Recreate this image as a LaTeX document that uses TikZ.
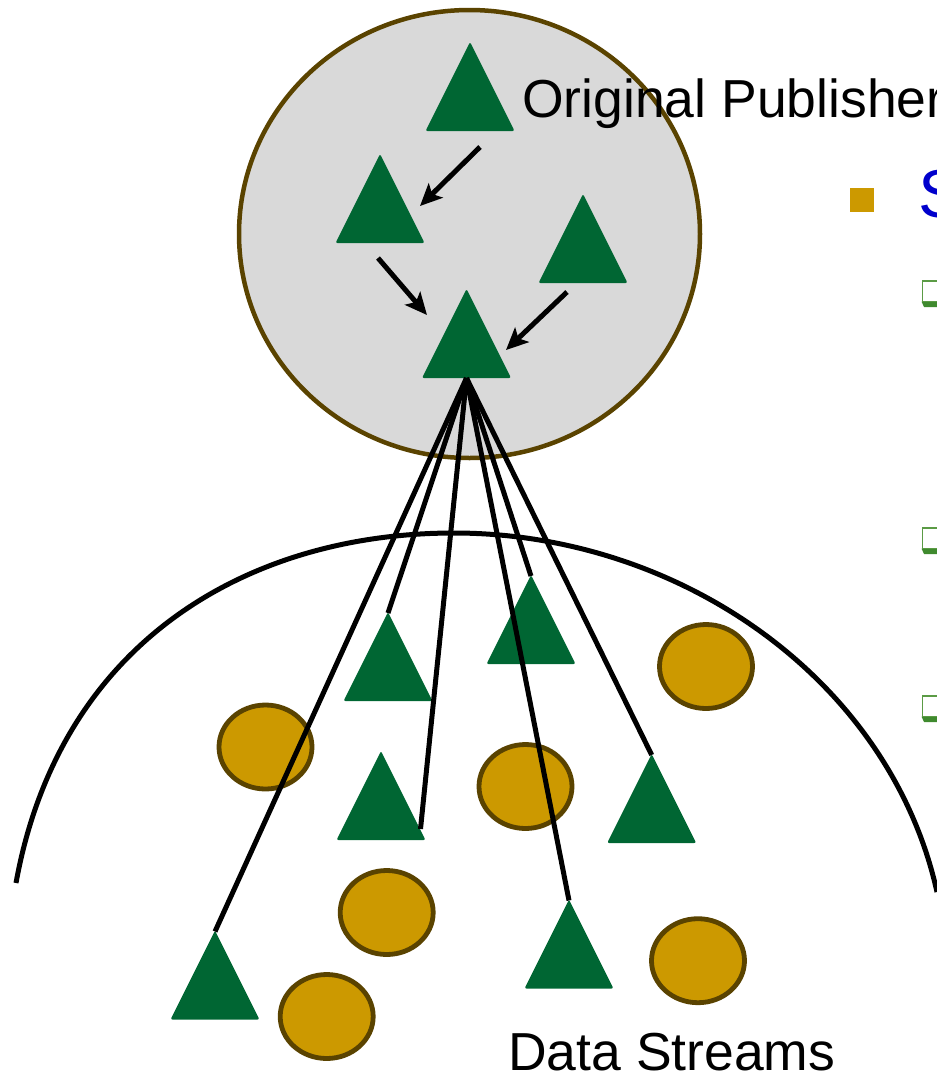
\documentclass[tikz,border=0pt]{standalone}
\usepackage{fontspec}
\setmainfont{Liberation Sans}
\usetikzlibrary{arrows.meta,shapes.geometric}

\definecolor{peergreen}{HTML}{006633}
\definecolor{discgray}{HTML}{D9D9D9}
\definecolor{rimbrown}{HTML}{5A4300}
\definecolor{gold}{HTML}{CC9900}
\definecolor{headblue}{HTML}{0000CC}
\definecolor{boxgreen}{HTML}{5B9B45}
\definecolor{boxshade}{HTML}{3F8A2E}

\tikzset{
  % a peer: green triangle, apex at the origin of the pic
  peer/.pic={
    \coordinate (-apex) at (0,0);
    \coordinate (-base) at (0,88);
    \fill[peergreen, rounded corners=2pt] (0,-1) -- (44.5,88) -- (-44.5,88) -- cycle;
  },
  % a checkbox bullet with its shadow
  checkbox/.pic={
    \fill[boxshade] (0,21.5) -- (30,21.5) -- (30,27) -- (2.5,27) -- cycle;
    \draw[boxgreen, line width=1.6pt, fill=white] (1,1) rectangle (30,21.5);
  },
  source/.style={ellipse, draw=rimbrown, fill=discgray, line width=4.5pt,
    minimum width=461pt, minimum height=448pt, inner sep=0pt},
  datum/.style={ellipse, draw=rimbrown, fill=gold, line width=4.8pt,
    minimum width=93pt, minimum height=84pt, inner sep=0pt},
  stream/.style={line width=5pt, black},
  relay/.style={line width=5pt, black, -{Stealth[length=22pt,width=20pt,inset=5pt]}},
  bigtext/.style={anchor=base west, inner sep=0pt, font=\fontsize{53.5}{60}\selectfont},
}

\begin{document}
\begin{tikzpicture}[x=1pt, y=-1pt]
  \useasboundingbox (0,0) rectangle (937,1077);
  \clip (0,0) rectangle (937,1077);

  % publisher group
  \node[source] (src) at (469.5,234) {};
  \pic (tP) at (470,43) {peer};
  \pic (tA) at (380,155) {peer};
  \pic (tB) at (583,195) {peer};
  \pic (tC) at (466.5,290) {peer};

  \coordinate (a1s) at (480,147);  \coordinate (a1e) at (420,206);
  \coordinate (a2s) at (378,258);  \coordinate (a2e) at (427,315);
  \coordinate (a3s) at (567,292);  \coordinate (a3e) at (506,350);
  \draw[relay] (a1s) -- (a1e);
  \draw[relay] (a2s) -- (a2e);
  \draw[relay] (a3s) -- (a3e);

  % the network boundary
  \coordinate (arcL) at (16,883);
  \coordinate (arcT) at (454,533);
  \coordinate (arcR) at (937,892);
  \draw[line width=5pt] (arcL) .. controls (60,640) and (250,533) .. (arcT)
                               .. controls (680,533) and (890,680) .. (arcR);

  % data items
  \node[datum] (d1) at (706,666.5) {};
  \node[datum] (d2) at (265.5,747) {};
  \node[datum] (d3) at (525.5,786.5) {};
  \node[datum] (d4) at (386.7,912.5) {};
  \node[datum] (d5) at (326.7,1016.5) {};
  \node[datum] (d6) at (698,960.7) {};

  % subscribing peers
  \pic (t1) at (388,613) {peer};
  \pic (t2) at (531,576) {peer};
  \pic (t3) at (381,752) {peer};
  \pic (t4) at (651.7,755) {peer};
  \pic (t5) at (569,900.5) {peer};
  \pic (t6) at (215,931.5) {peer};

  % streams from the publisher
  \coordinate (e3) at (420.5,829);
  \draw[stream] (tC-base) -- (t6-apex);
  \draw[stream] (tC-base) -- (t1-apex);
  \draw[stream] (tC-base) -- (e3);
  \draw[stream] (tC-base) -- (t2-apex);
  \draw[stream] (tC-base) -- (t5-apex);
  \draw[stream] (tC-base) -- (t4-apex);

  % labels
  \node[bigtext] (pub) at (522,117) {Original Publisher};
  \node[bigtext] (ds) at (508,1070) {Data Streams};

  % bullet list at the side
  \fill[gold] (850,188) rectangle (874,212);
  \node[anchor=base west, inner sep=0pt, text=headblue,
        font=\fontsize{68}{80}\selectfont] (head) at (918,217) {S};
  \pic at (921.5,280) {checkbox};
  \pic at (921.5,527) {checkbox};
  \pic at (921.5,695) {checkbox};
\end{tikzpicture}
\end{document}
